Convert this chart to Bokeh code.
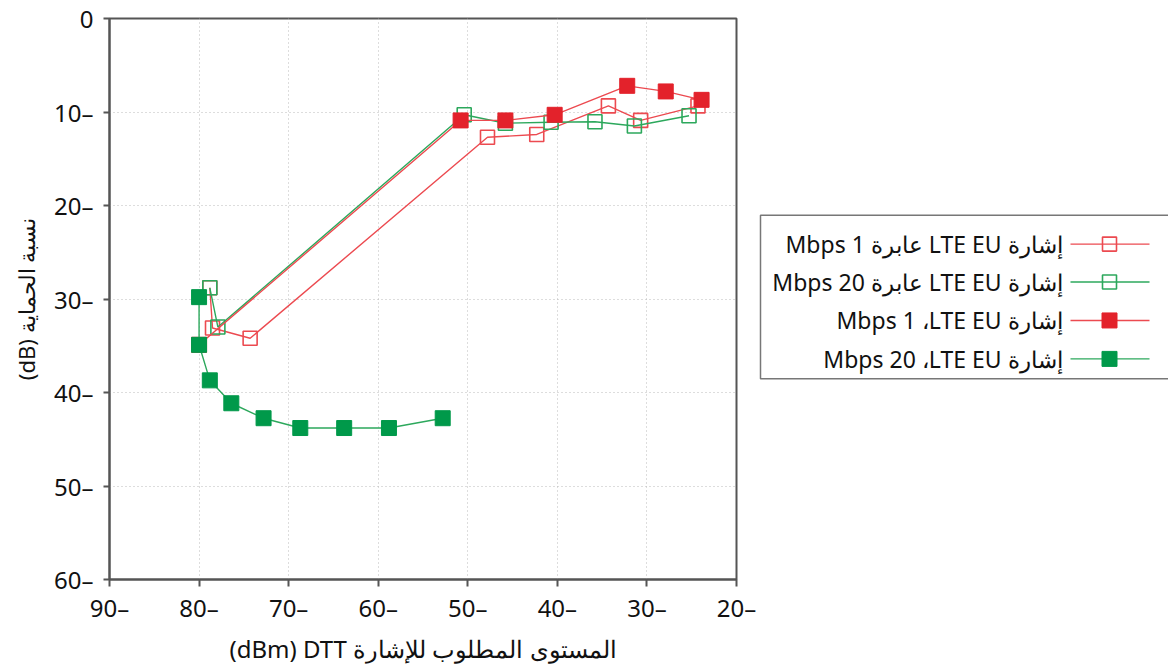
from bokeh.plotting import figure
from bokeh.layouts import row
from bokeh.models import Range1d, SingleIntervalTicker, CustomJSTickFormatter
from bokeh.core.properties import value
from bokeh.embed import file_html
from bokeh.resources import INLINE

# ---- data ----
x_open_1 = [-78.8, -78.5, -74.3, -47.8, -42.3, -34.3, -30.7, -24.3]
y_open_1 = [-28.8, -33.1, -34.2, -12.7, -12.4, -9.35, -10.9, -9.35]

x_open_20 = [-78.8, -77.9, -50.4, -45.8, -40.7, -35.8, -31.4, -25.3]
y_open_20 = [-28.8, -33.0, -10.3, -11.2, -11.1, -11.05, -11.5, -10.4]

x_fill_1 = [-80.0, -50.8, -45.8, -40.3, -32.2, -27.9, -23.9]
y_fill_1 = [-34.9, -10.9, -10.9, -10.3, -7.2, -7.8, -8.7]

x_fill_20 = [-80.0, -80.0, -78.8, -76.4, -72.8, -68.7, -63.8, -58.8, -52.8]
y_fill_20 = [-29.8, -34.9, -38.7, -41.15, -42.75, -43.8, -43.8, -43.8, -42.75]

series_labels = [
    "إشارة LTE EU عابرة 1 Mbps",
    "إشارة LTE EU عابرة 20 Mbps",
    "إشارة LTE EU،\u200f 1 Mbps",
    "إشارة LTE EU،\u200f 20 Mbps",
]
x_title = "المستوى المطلوب للإشارة DTT\u200f (dBm)"
y_title = "نسبة الحماية (dB)"

RED = "#E3222B"
GREEN = "#00994A"
RED_L = "#EC4A50"
GREEN_L = "#2CA85C"

FONT = "Noto Sans"


def rtl(s):
    return "\u202b" + s + "\u202c"


H = 667
p = figure(width=756, height=H, x_range=Range1d(-90, -20), y_range=Range1d(-60, 0),
           output_backend="svg", toolbar_location=None,
           min_border_left=109, min_border_top=18, min_border_right=20, min_border_bottom=60)

fmt = CustomJSTickFormatter(code="return tick == 0 ? '0' : Math.abs(tick) + '\u2013';")
for ax, title in ((p.xaxis[0], x_title), (p.yaxis[0], y_title)):
    ax.ticker = SingleIntervalTicker(interval=10, num_minor_ticks=0)
    ax.formatter = fmt
    ax.axis_label = rtl(title)
    ax.axis_label_text_font = FONT
    ax.axis_label_text_font_style = "normal"
    ax.axis_label_text_color = "#111111"
    ax.major_label_text_font = FONT
    ax.major_label_text_font_size = "24px"
    ax.major_label_text_color = "#111111"
    ax.axis_line_color = "#555555"
    ax.axis_line_width = 2
    ax.major_tick_line_color = "#555555"
    ax.major_tick_line_width = 2
    ax.major_tick_in = 0
    ax.minor_tick_line_color = None

p.xaxis.axis_label_text_font_size = "24px"
p.yaxis.axis_label_text_font_size = "22px"
p.xaxis.major_tick_out = 7
p.xaxis.major_label_standoff = 4
p.xaxis.axis_label_standoff = 5
p.yaxis.major_tick_out = 6
p.yaxis.major_label_standoff = 10
p.yaxis.axis_label_standoff = 10

p.outline_line_color = "#555555"
p.outline_line_width = 2
p.grid.grid_line_color = "#BBBBBB"
p.grid.grid_line_dash = "1 3"
p.grid.grid_line_width = 1
p.xgrid.ticker = SingleIntervalTicker(interval=10, num_minor_ticks=0)
p.ygrid.ticker = SingleIntervalTicker(interval=10, num_minor_ticks=0)
p.background_fill_color = "white"
p.border_fill_color = "white"

SZ = 14
p.line(x_open_1, y_open_1, line_color=RED_L, line_width=1.4)
p.scatter(x_open_1, y_open_1, marker="square", size=SZ, fill_color=None, line_color=RED_L, line_width=1.6)
p.line(x_open_20, y_open_20, line_color=GREEN_L, line_width=1.4)
p.scatter(x_open_20, y_open_20, marker="square", size=SZ, fill_color=None, line_color=GREEN_L, line_width=1.6)
p.line(x_fill_1, y_fill_1, line_color=RED_L, line_width=1.4)
p.scatter(x_fill_1, y_fill_1, marker="square", size=SZ + 1, fill_color=RED, line_color=RED)
p.line(x_fill_20, y_fill_20, line_color=GREEN_L, line_width=1.4)
p.scatter(x_fill_20, y_fill_20, marker="square", size=SZ + 1, fill_color=GREEN, line_color=GREEN)

# ---- legend panel: its frame is aligned with the main frame (page y 19..581) ----
LW = 412
leg = figure(width=LW, height=H, x_range=Range1d(0, LW), y_range=Range1d(581, 19),
             output_backend="svg", toolbar_location=None,
             min_border=0, min_border_left=0, min_border_right=0, min_border_top=0, min_border_bottom=0)
leg.axis.visible = False
leg.grid.visible = False
leg.outline_line_color = None
leg.background_fill_color = "white"
leg.border_fill_color = "white"

leg.quad(left=[4], right=[LW + 20], top=[216], bottom=[380], fill_color=None,
         line_color="#777777", line_width=1.5)
row_y = [245, 283, 321.5, 360]
line_cols = [RED_L, GREEN_L, RED_L, GREEN_L]
fills = [None, None, RED, GREEN]
for yy, lc, fc in zip(row_y, line_cols, fills):
    leg.line([314, 393], [yy, yy], line_color=lc, line_width=1.4)
    if fc is None:
        leg.scatter([353], [yy], marker="square", size=SZ, fill_color=None, line_color=lc, line_width=1.6)
    else:
        leg.scatter([353], [yy], marker="square", size=SZ + 1, fill_color=fc, line_color=fc)
leg.text(x=[306] * 4, y=row_y, text=[rtl(s) for s in series_labels],
         text_align="right", text_baseline="middle", text_font=value(FONT),
         text_font_size="23px", text_color="#111111")

layout = row(p, leg)
open("out.html", "w").write(file_html(layout, INLINE))
